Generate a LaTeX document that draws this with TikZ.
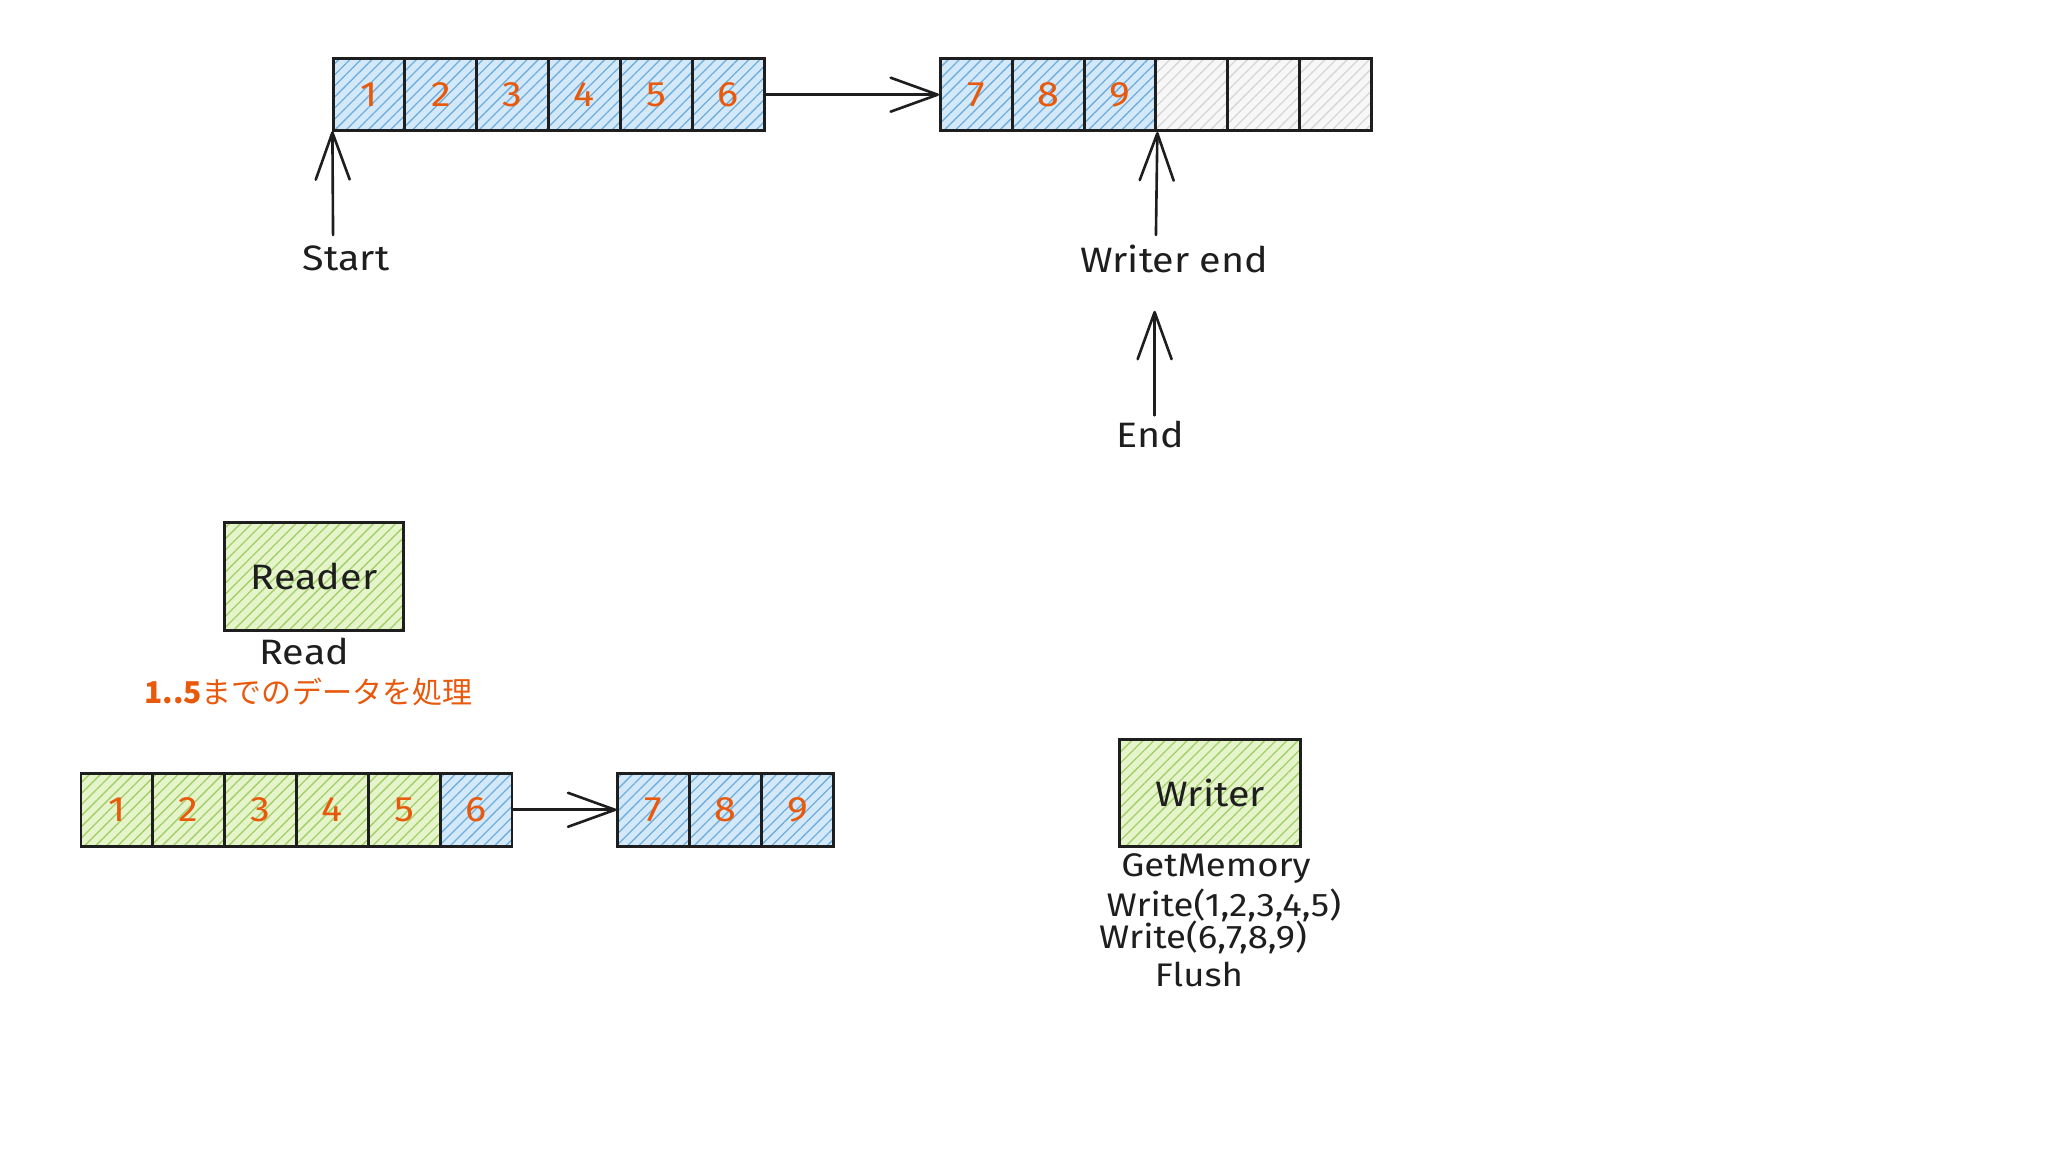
\documentclass[tikz,border=0pt]{standalone}
\usepackage{fontspec}
\setmainfont[FakeStretch=1.12]{Fira Sans}
\newfontfamily\jpfont{Noto Sans CJK JP}
\usetikzlibrary{patterns.meta,arrows.meta}
\definecolor{ink}{HTML}{1E1E1E}
\definecolor{numc}{HTML}{E8590C}
\definecolor{bluebg}{HTML}{D3E9F9}
\definecolor{blueln}{HTML}{6FAEDD}
\definecolor{greenbg}{HTML}{E5F4CA}
\definecolor{greenln}{HTML}{A3CF68}
\definecolor{graybg}{HTML}{F7F7F7}
\definecolor{grayln}{HTML}{D6D6D6}
\tikzset{
  boxbase/.style={draw=ink, line width=2.2pt, inner sep=0pt},
  cellbase/.style={boxbase, minimum width=55pt, minimum height=55pt, text=numc, font=\fontsize{27}{27}\selectfont},
  bluefill/.style={preaction={fill=bluebg}, pattern={Lines[angle=45,distance=6pt,line width=1pt]}, pattern color=blueln},
  greenfill/.style={preaction={fill=greenbg}, pattern={Lines[angle=45,distance=6pt,line width=1pt]}, pattern color=greenln},
  grayfill/.style={preaction={fill=graybg}, pattern={Lines[angle=45,distance=6pt,line width=1pt]}, pattern color=grayln},
  bluecell/.style={cellbase, bluefill},
  greencell/.style={cellbase, greenfill},
  graycell/.style={cellbase, grayfill},
  bigbox/.style={boxbase, greenfill, text=ink, font=\fontsize{27}{27}\selectfont},
  lbl/.style={text=ink, inner sep=0pt, font=\fontsize{27}{30}\selectfont},
  smalllbl/.style={text=ink, inner sep=0pt, font=\fontsize{25}{27}\selectfont},
  arr/.style={draw=ink, line width=2pt, line cap=round, -{Straight Barb[length=36pt,width=26pt,line width=2pt,round]}},
}
\begin{document}
\begin{tikzpicture}[x=1pt,y=-1pt]
\useasboundingbox[fill=white] (0,0) rectangle (1568,882);

% top row
\foreach \i in {1,...,6} {
  \node[bluecell] (c\i) at ({255+55*(\i-1)+27.5},72.5) {\i};
}
\foreach \i in {7,8,9} {
  \node[bluecell] (c\i) at ({720+55*(\i-7)+27.5},72.5) {\i};
}
\node[graycell] (c10) at ({720+55*3+27.5},72.5) {};
\node[graycell] (c11) at ({720+55*4+27.5},72.5) {};
\node[graycell] (c12) at ({720+55*5+27.5},72.5) {};

\draw[arr] (c6.east) -- (c7.west);

\node[lbl] (start) at (265,198) {Start};
\coordinate (sa) at (255,180);
\draw[arr] (sa) -- (c1.south west);

\node[lbl] (wend) at (899,198) {Writer end};
\coordinate (wa) at (885,180);
\draw[arr] (wa) -- (c9.south east);

\node[lbl] (endl) at (881,333) {End};
\coordinate (ea) at (884,318);
\coordinate (eb) at (884,238);
\draw[arr] (ea) -- (eb);

% reader
\node[bigbox, minimum width=137pt, minimum height=83pt] (reader) at (240.5,441.5) {Reader};
\node[lbl] (read) at (233,499) {Read};
\node[text=numc, inner sep=0pt, font=\jpfont\fontsize{23}{25}\selectfont] (jp) at (236,530) {\textbf{1..5}までのデータを処理};

% bottom row
\foreach \i in {1,...,5} {
  \node[greencell, minimum height=56pt] (d\i) at ({62+55*(\i-1)+27.5},620) {\i};
}
\node[bluecell, minimum height=56pt] (d6) at ({62+55*5+27.5},620) {6};
\foreach \i in {7,8,9} {
  \node[bluecell, minimum height=56pt] (d\i) at ({473+55*(\i-7)+27.5},620) {\i};
}
\draw[arr] (d6.east) -- (d7.west);

% writer
\node[bigbox, minimum width=139pt, minimum height=82pt] (writer) at (926.5,607) {Writer};
\node[smalllbl] (gm) at (931,665) {GetMemory};
\node[smalllbl] (w1) at (937,693) {Write(1,2,3,4,5)};
\node[smalllbl] (w2) at (921,718) {Write(6,7,8,9)};
\node[smalllbl] (fl) at (918,746) {Flush};
\end{tikzpicture}
\end{document}
